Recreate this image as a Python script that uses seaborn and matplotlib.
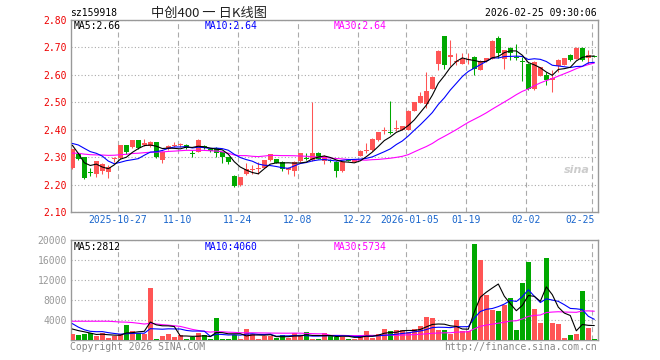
import matplotlib
matplotlib.use("Agg")
import matplotlib.pyplot as plt
import matplotlib.transforms as mtransforms
import numpy as np
import pandas as pd
import seaborn as sns

sns.set_style("white")
plt.rcParams['font.family'] = ['DejaVu Sans Mono', 'Noto Sans CJK SC', 'DejaVu Sans']
plt.rcParams['lines.scale_dashes'] = False

# ---------------- data ----------------
tick_idx = [8, 18, 28, 38, 48, 56, 66, 76, 87]
tick_labels = ['2025-10-27', '11-10', '11-24', '12-08', '12-22', '2026-01-05', '01-19', '02-02', '02-25']

opens = [2.262, 2.31, 2.30, 2.243, 2.24, 2.25, 2.245, 2.292, 2.297, 2.344,
         2.336, 2.363, 2.343, 2.341, 2.355, 2.291, 2.328, 2.34, 2.343, 2.345,
         2.315, 2.32, 2.341, 2.331, 2.334, 2.317, 2.299, 2.233, 2.20, 2.237,
         2.252, 2.255, 2.262, 2.289, 2.293, 2.283, 2.254, 2.249, 2.285, 2.297,
         2.289, 2.316, 2.286, 2.288, 2.283, 2.249, 2.289, 2.283, 2.305, 2.321,
         2.326, 2.363, 2.394, 2.392, 2.404, 2.40, 2.40, 2.47, 2.499, 2.492,
         2.55, 2.638, 2.74, 2.665, 2.648, 2.64, 2.653, 2.665, 2.619, 2.649,
         2.659, 2.735, 2.659, 2.699, 2.664, 2.649, 2.64, 2.548, 2.597, 2.60,
         2.581, 2.632, 2.637, 2.674, 2.659, 2.698, 2.661, 2.668]
closes = [2.328, 2.294, 2.225, 2.241, 2.285, 2.275, 2.263, 2.296, 2.344, 2.32,
          2.363, 2.333, 2.35, 2.354, 2.30, 2.32, 2.341, 2.345, 2.345, 2.333,
          2.313, 2.363, 2.333, 2.323, 2.314, 2.30, 2.283, 2.196, 2.227, 2.258,
          2.256, 2.259, 2.289, 2.311, 2.28, 2.255, 2.262, 2.283, 2.314, 2.295,
          2.314, 2.295, 2.304, 2.286, 2.249, 2.283, 2.287, 2.291, 2.323, 2.324,
          2.367, 2.39, 2.398, 2.389, 2.408, 2.412, 2.47, 2.50, 2.523, 2.542,
          2.594, 2.687, 2.637, 2.674, 2.652, 2.659, 2.657, 2.62, 2.649, 2.661,
          2.724, 2.681, 2.69, 2.681, 2.66, 2.646, 2.548, 2.647, 2.628, 2.582,
          2.587, 2.655, 2.661, 2.653, 2.698, 2.653, 2.674, 2.666]
highs = [2.33, 2.315, 2.30, 2.262, 2.285, 2.278, 2.27, 2.301, 2.345, 2.345,
         2.364, 2.364, 2.365, 2.36, 2.357, 2.322, 2.343, 2.357, 2.352, 2.347,
         2.326, 2.365, 2.345, 2.333, 2.336, 2.32, 2.30, 2.235, 2.228, 2.277,
         2.27, 2.283, 2.29, 2.313, 2.295, 2.285, 2.265, 2.285, 2.316, 2.314,
         2.502, 2.318, 2.306, 2.292, 2.285, 2.285, 2.292, 2.293, 2.325, 2.35,
         2.369, 2.392, 2.41, 2.505, 2.437, 2.414, 2.472, 2.502, 2.538, 2.61,
         2.596, 2.69, 2.742, 2.726, 2.681, 2.681, 2.681, 2.667, 2.655, 2.663,
         2.726, 2.74, 2.692, 2.70, 2.711, 2.665, 2.642, 2.649, 2.63, 2.61,
         2.616, 2.657, 2.663, 2.676, 2.70, 2.70, 2.69, 2.668]
lows = [2.255, 2.29, 2.22, 2.233, 2.227, 2.24, 2.225, 2.283, 2.295, 2.31,
        2.334, 2.331, 2.34, 2.336, 2.298, 2.279, 2.325, 2.338, 2.336, 2.33,
        2.299, 2.318, 2.33, 2.32, 2.30, 2.277, 2.274, 2.19, 2.195, 2.235,
        2.237, 2.24, 2.26, 2.287, 2.278, 2.25, 2.24, 2.233, 2.283, 2.289,
        2.287, 2.293, 2.274, 2.281, 2.227, 2.247, 2.285, 2.281, 2.303, 2.316,
        2.324, 2.36, 2.385, 2.385, 2.394, 2.398, 2.398, 2.467, 2.497, 2.48,
        2.548, 2.616, 2.62, 2.634, 2.637, 2.64, 2.64, 2.60, 2.617, 2.647,
        2.657, 2.66, 2.62, 2.655, 2.653, 2.579, 2.545, 2.545, 2.595, 2.563,
        2.536, 2.612, 2.635, 2.651, 2.657, 2.651, 2.64, 2.665]
volumes = [1200, 1000, 1200, 1333, 800, 1470, 470, 800, 1200, 3070,
           1800, 1330, 1270, 10470, 270, 870, 1270, 600, 1000, 270,
           530, 1400, 1000, 200, 4470, 270, 270, 1000, 270, 2270,
           1200, 270, 800, 800, 330, 1070, 330, 1470, 800, 1670,
           270, 270, 1330, 1000, 600, 600, 200, 270, 1000, 1800,
           470, 1270, 2200, 1800, 2000, 2000, 1530, 2200, 2800, 4600,
           4400, 2000, 2000, 1200, 4000, 1800, 1800, 19200, 16000, 9000,
           6000, 5800, 7000, 8470, 2000, 11330, 15670, 6200, 3470, 16470,
           3470, 3200, 330, 1000, 1200, 9800, 2330, 130]
# sessions before the visible window (needed to seed the moving averages)
prior_closes = [2.31, 2.32, 2.30, 2.31, 2.29, 2.30, 2.28, 2.29, 2.27, 2.28,
                2.30, 2.29, 2.31, 2.28, 2.30, 2.29, 2.31, 2.30, 2.29, 2.32,
                2.35, 2.349, 2.36, 2.346, 2.377, 2.444, 2.395, 2.291, 2.26]
prior_volumes = [1000, 1200, 1300, 800, 1500, 500, 3000, 3500, 4000, 4200,
                 5500, 6000, 5800, 4500, 4800, 4300, 4600, 4700, 9000, 9500,
                 8000, 6500, 4500, 1500, 1300, 2600, 2400, 2600, 2200]

ma_labels_price = ['MA5:2.66', 'MA10:2.64', 'MA30:2.64']
ma_labels_vol = ['MA5:2812', 'MA10:4060', 'MA30:5734']

# ---------------- derived ----------------
o = np.array(opens); c = np.array(closes); h = np.array(highs); l = np.array(lows)
v = np.array(volumes)
n = len(c)
idx = np.arange(n)
npc = len(prior_closes)

def mas(prior, vals):
    s = pd.Series(list(prior) + list(vals), dtype=float)
    out = {}
    for w in (5, 10, 30):
        out['MA%d' % w] = s.rolling(w).mean().iloc[len(prior):].to_numpy()
    return out

pm = mas(prior_closes, closes)
vm = mas(prior_volumes, volumes)
df_p = pd.DataFrame({'i': idx, **pm})
df_v = pd.DataFrame({'i': idx, **vm})

RED = '#ff5555'
GREEN = '#00a800'
colors = np.where(c >= o, RED, GREEN)
MA_COL = {'MA5': '#000000', 'MA10': '#0000ff', 'MA30': '#ff00ff'}
FRAME = '#999999'

W, H = 660, 360
fig = plt.figure(figsize=(W / 100, H / 100), dpi=100)
fig.patch.set_facecolor('white')

def fx(px):
    return px / W

def fy(py):
    return 1 - py / H

L, R = 70.5, 597.5
ax = fig.add_axes([fx(L), fy(212), fx(R - L), (212 - 20) / H])
axv = fig.add_axes([fx(L), fy(340), fx(R - L), (340 - 240) / H])

xlim = (-0.3, 87.53)
grid_x = [t - 0.4 for t in tick_idx]

# price panel
ax.vlines(idx, l, h, colors=colors, lw=0.75, zorder=3)
body_bot = np.minimum(o, c)
body_h = np.maximum(np.abs(c - o), 0.0035)
ax.bar(idx, body_h, bottom=body_bot, width=0.8, color=colors, lw=0, zorder=4)
for k in ('MA30', 'MA10', 'MA5'):
    sns.lineplot(data=df_p, x='i', y=k, ax=ax, color=MA_COL[k], lw=0.8, zorder=5)
ax.set_xlim(*xlim)
ax.set_ylim(2.10, 2.80)
ax.set_yticks(np.round(np.arange(2.10, 2.801, 0.10), 2))
ax.set_yticklabels(['%.2f' % t for t in np.arange(2.10, 2.801, 0.10)], color='#ee0000', fontsize=7)
ax.set_xticks(grid_x)
ax.set_xticklabels(tick_labels, color='#1a66cc', fontsize=7)
ax.tick_params(axis='both', length=0, pad=2.5)
ax.set_xlabel('')
ax.set_ylabel('')

# volume panel
axv.bar(idx, v, width=0.8, color=colors, lw=0, zorder=3)
for k in ('MA30', 'MA10', 'MA5'):
    sns.lineplot(data=df_v, x='i', y=k, ax=axv, color=MA_COL[k], lw=0.8, zorder=5)
axv.set_xlim(*xlim)
axv.set_ylim(0, 20000)
axv.set_yticks([4000, 8000, 12000, 16000, 20000])
axv.set_yticklabels(['4000', '8000', '12000', '16000', '20000'], color='#999999', fontsize=7)
axv.set_xticks(grid_x)
axv.tick_params(axis='both', length=0, pad=2.5, labelbottom=False)
axv.set_xlabel('')
axv.set_ylabel('')

for a in (ax, axv):
    a.set_facecolor('white')
    a.grid(axis='y', ls=(0, (0.8, 1.6)), color='#aaaaaa', lw=0.8, zorder=1)
    a.grid(axis='x', ls=(0, (3.6, 2.4)), color='#aaaaaa', lw=0.8, zorder=1)
    a.set_axisbelow(True)
    for s in a.spines.values():
        s.set_color(FRAME)
        s.set_linewidth(1.0)
        s.set_visible(True)

# last date label sits left of its gridline
lbls = ax.get_xticklabels()
lbls[-1].set_ha('right')
lbls[-1].set_transform(lbls[-1].get_transform() + mtransforms.ScaledTranslation(3 / 100, 0, fig.dpi_scale_trans))
lbls[5].set_transform(lbls[5].get_transform() + mtransforms.ScaledTranslation(4 / 100, 0, fig.dpi_scale_trans))

# header texts
fig.text(fx(70), fy(13), 'sz159918', fontsize=7, ha='left', va='center', color='black')
fig.text(fx(209), fy(13), '中创400 一 日K线图', fontsize=9.5, ha='center', va='center', color='#222222',
         family=['Noto Sans CJK SC', 'DejaVu Sans'])
fig.text(fx(597), fy(13), '2026-02-25 09:30:06', fontsize=7, ha='right', va='center', color='black')

# MA legend texts
for txt, xp, col in zip(ma_labels_price, (74, 205, 334), ('black', '#0000ff', '#ff00ff')):
    fig.text(fx(xp), fy(26), txt, fontsize=7, ha='left', va='center', color=col)
for txt, xp, col in zip(ma_labels_vol, (74, 205, 334), ('black', '#0000ff', '#ff00ff')):
    fig.text(fx(xp), fy(247), txt, fontsize=7, ha='left', va='center', color=col)

# footer & watermark
fig.text(fx(70), fy(347), 'Copyright 2026 SINA.COM', fontsize=7, ha='left', va='center', color='#888888')
fig.text(fx(597), fy(347), 'http://finance.sina.com.cn', fontsize=7, ha='right', va='center', color='#888888')
fig.text(fx(577), fy(170), 'sina', fontsize=8, ha='center', va='center', color='#cccccc',
         style='italic', weight='bold', family='DejaVu Sans')

fig.savefig('out.png', dpi=100, facecolor='white')
